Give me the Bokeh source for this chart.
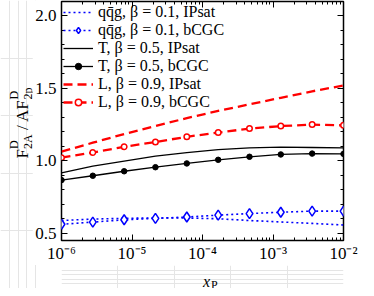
import math
from bokeh.plotting import figure
from bokeh.layouts import row, column
from bokeh.models import (Range1d, FixedTicker, LogAxis, LinearAxis, Legend,
                          LegendItem, Label, PrintfTickFormatter)
from bokeh.embed import file_html
from bokeh.resources import INLINE

# ---- data ----
x_p = [1.0e-6, 2.78e-6, 7.74e-6, 2.15e-5, 5.99e-5, 1.67e-4, 4.64e-4, 1.29e-3, 3.59e-3, 1.0e-2]
qqg_ipsat = [0.588, 0.598, 0.603, 0.606, 0.605, 0.600, 0.588, 0.578, 0.568, 0.557]
qqg_bcgc = [0.562, 0.577, 0.593, 0.603, 0.612, 0.625, 0.636, 0.645, 0.653, 0.653]
t_ipsat = [0.917, 0.963, 0.998, 1.033, 1.057, 1.078, 1.090, 1.094, 1.092, 1.090]
t_bcgc = [0.867, 0.897, 0.928, 0.956, 0.982, 1.007, 1.028, 1.044, 1.050, 1.048]
l_ipsat = [1.063, 1.125, 1.185, 1.240, 1.295, 1.345, 1.390, 1.435, 1.480, 1.520]
l_bcgc = [1.022, 1.057, 1.097, 1.130, 1.166, 1.195, 1.223, 1.240, 1.250, 1.245]

legend_labels = ["qq\u0304g, \u03b2 = 0.1, IPsat", "qq\u0304g, \u03b2 = 0.1, bCGC",
                 "T, \u03b2 = 0.5, IPsat", "T, \u03b2 = 0.5, bCGC",
                 "L, \u03b2 = 0.9, IPsat", "L, \u03b2 = 0.9, bCGC"]

x_ticks = [1e-6, 1e-5, 1e-4, 1e-3, 1e-2]
x_tick_labels = ["10\u207b\u2076", "10\u207b\u2075", "10\u207b\u2074", "10\u207b\u00b3", "10\u207b\u00b2"]
y_ticks = [0.5, 1.0, 1.5, 2.0]
y_minor = [0.5, 0.6, 0.7, 0.8, 0.9, 1.0, 1.1, 1.2, 1.3, 1.4, 1.5, 1.6, 1.7, 1.8, 1.9, 2.0]

SERIF = "Liberation Serif"
YW, YOV = 44, 12   # y-title strip width and overlap with the main figure
PW, PH = 326, 265  # main figure
XH = 23            # height of the x-title strip
BL, BR = 26, 15    # main figure left / right borders

x_minor = [m * 10.0 ** e for e in range(-6, -2) for m in range(1, 10)] + [1e-2]
xticker = FixedTicker(ticks=x_ticks, minor_ticks=x_minor)
yticker = FixedTicker(ticks=y_ticks, minor_ticks=y_minor)

p = figure(width=PW, height=PH, x_axis_type="log",
           x_range=Range1d(1e-6, 1e-2), y_range=Range1d(0.45, 2.1),
           output_backend="svg", toolbar_location=None,
           min_border_left=BL, min_border_right=BR, min_border_top=1, min_border_bottom=22)
p.xgrid.visible = False
p.ygrid.visible = False
p.outline_line_color = "black"
p.outline_line_width = 1.5
p.background_fill_color = "white"
p.border_fill_color = "white"


def style_axis(ax, labels=True):
    ax.axis_line_color = None
    ax.major_tick_in = 6
    ax.major_tick_out = 0
    ax.minor_tick_in = 3
    ax.minor_tick_out = 0
    ax.major_tick_line_color = "black"
    ax.minor_tick_line_color = "black"
    ax.major_tick_line_width = 1
    ax.minor_tick_line_width = 1
    ax.major_label_text_font = SERIF
    ax.major_label_text_color = "black"
    if labels:
        ax.major_label_text_font_size = "17px"
        ax.major_label_standoff = 3
    else:
        ax.major_label_text_font_size = "0px"
        ax.major_label_standoff = 0


xa = p.xaxis[0]
xa.ticker = xticker
xa.major_label_overrides = {t: s for t, s in zip(x_ticks, x_tick_labels)}
style_axis(xa)
ya = p.yaxis[0]
ya.ticker = yticker
ya.formatter = PrintfTickFormatter(format="%.1f")
style_axis(ya)
ya.major_label_standoff = 5

top = LogAxis(ticker=xticker, major_label_overrides={t: "" for t in x_ticks})
style_axis(top, labels=False)
p.add_layout(top, "above")
right = LinearAxis(ticker=yticker, major_label_overrides={t: "" for t in y_ticks})
style_axis(right, labels=False)
p.add_layout(right, "right")

BLUE, RED = "#0000ff", "#ff0000"
r1 = p.line(x_p, qqg_ipsat, line_color=BLUE, line_width=1.6, line_dash="2 3")
r2l = p.line(x_p, qqg_bcgc, line_color=BLUE, line_width=1.6, line_dash="2 3")
r2m = p.scatter(x_p, qqg_bcgc, marker="diamond", size=10, line_color=BLUE,
                line_width=1.5, fill_color="white")
r3 = p.line(x_p, t_ipsat, line_color="black", line_width=1.3)
r4l = p.line(x_p, t_bcgc, line_color="black", line_width=1.3)
r4m = p.scatter(x_p, t_bcgc, marker="circle", size=5.5, line_color="black", fill_color="black")
r5 = p.line(x_p, l_ipsat, line_color=RED, line_width=2.3, line_dash="9 5")
r6l = p.line(x_p, l_bcgc, line_color=RED, line_width=2.3, line_dash="9 5")
r6m = p.scatter(x_p, l_bcgc, marker="circle", size=5.5, line_color=RED, line_width=1.5,
                fill_color="white")

items = [LegendItem(label=legend_labels[0], renderers=[r1]),
         LegendItem(label=legend_labels[1], renderers=[r2l, r2m]),
         LegendItem(label=legend_labels[2], renderers=[r3]),
         LegendItem(label=legend_labels[3], renderers=[r4l, r4m]),
         LegendItem(label=legend_labels[4], renderers=[r5]),
         LegendItem(label=legend_labels[5], renderers=[r6l, r6m])]
leg = Legend(items=items, location="top_left", padding=0, margin=2, spacing=0,
             glyph_width=30, glyph_height=16, label_height=16, label_standoff=5,
             border_line_color=None, background_fill_alpha=0)
leg.label_text_font = SERIF
leg.label_text_font_size = "16px"
leg.label_text_color = "black"
p.add_layout(leg)


def strip(w, h, margin=None):
    f = figure(width=w, height=h, x_range=Range1d(0, 1), y_range=Range1d(0, 1),
               min_border=0, toolbar_location=None, x_axis_location=None,
               y_axis_location=None, output_backend="svg")
    if margin is not None:
        f.margin = margin
    f.outline_line_color = None
    f.background_fill_alpha = 0
    f.border_fill_alpha = 0
    return f


def lab(fig, text, x, y, size, angle=0.0, style="normal"):
    fig.add_layout(Label(x=x, y=y, x_units="screen", y_units="screen", text=text,
                         angle=angle, text_font=SERIF, text_font_size=f"{size}px",
                         text_font_style=style, text_align="left",
                         text_baseline="alphabetic", text_color="black"))


# y-axis title strip: F^D_2A / AF^D_2p (rotated)
yfig = strip(YW, PH + XH, (0, -YOV, 0, 0))
A = math.pi / 2
y0 = 130
lab(yfig, "F", 21.5, y0, 17, A)
lab(yfig, "D", 13, y0 + 9.5, 12, A)
lab(yfig, "2A", 27.5, y0 + 9.5, 12, A)
lab(yfig, "/ AF", 21.5, y0 + 28.5, 17, A)
lab(yfig, "D", 13, y0 + 59, 12, A)
lab(yfig, "2p", 27.5, y0 + 59, 12, A)

# x-axis title strip: x_P (strip is laid out ~20 px right of the frame origin)
xfig = strip(PW, XH)
xc = BL + (PW - BL - BR) / 2 - 20
lab(xfig, "x", xc - 7, 7, 16, 0.0, "italic")
lab(xfig, "P", xc + 1, 4, 12)

layout = row(yfig, column(p, xfig, spacing=0), spacing=0)
open("out.html", "w").write(file_html(layout, INLINE))
